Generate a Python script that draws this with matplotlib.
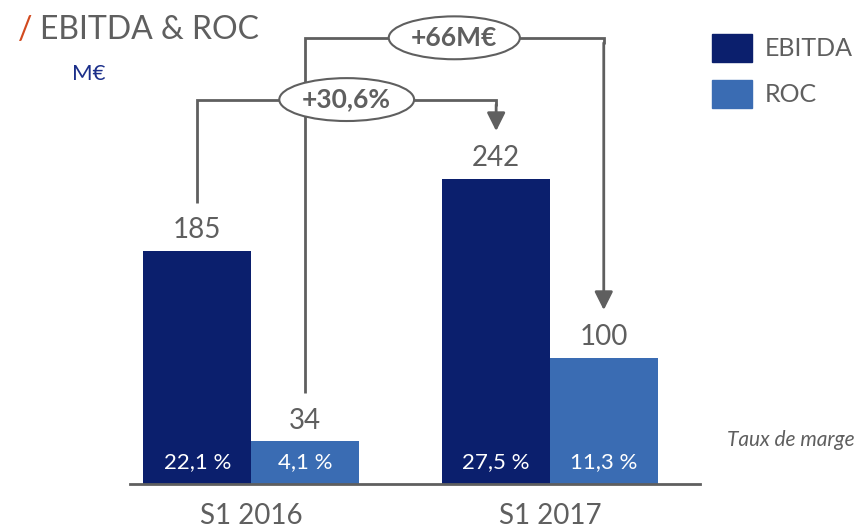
import matplotlib.pyplot as plt
from matplotlib.patches import Patch

periods = ["S1 2016", "S1 2017"]
ebitda = [185, 242]
roc = [34, 100]
ebitda_margin = ["22,1 %", "27,5 %"]
roc_margin = ["4,1 %", "11,3 %"]
growth_ebitda = "+30,6%"
growth_roc = "+66M€"

navy = "#0b1f6d"
blue = "#3a6cb3"
grey = "#5f5f5f"

plt.rcParams["font.family"] = ["Lato", "DejaVu Sans"]

fig = plt.figure(figsize=(8.6, 5.31), dpi=100)
ax = fig.add_axes([130 / 860, 47 / 531, 570 / 860, 484 / 531])

w = 0.36
x = [0, 1]
xe = [i - w / 2 for i in x]
xr = [i + w / 2 for i in x]
ax.bar(xe, ebitda, w, color=navy, label="EBITDA")
ax.bar(xr, roc, w, color=blue, label="ROC")

for xi, v in zip(xe + xr, ebitda + roc):
    ax.text(xi, v + 6, str(v), ha="center", va="bottom", fontsize=20, color=grey)
for xi, t in zip(xe + xr, ebitda_margin + roc_margin):
    ax.text(xi, 17, t, ha="center", va="center", fontsize=16, color="white")

# connectors with growth bubbles
off = 38
lw = 2
for (x0, x1, v0, v1, ytop, label) in [
    (xe[0], xe[1], ebitda[0], ebitda[1], 305, growth_ebitda),
    (xr[0], xr[1], roc[0], roc[1], 354, growth_roc),
]:
    ax.plot([x0, x0, x1, x1], [v0 + off, ytop, ytop, ytop - 5], color=grey, lw=lw,
            zorder=3, solid_joinstyle="miter", solid_capstyle="butt")
    ax.annotate("", xy=(x1, v1 + off), xytext=(x1, ytop - 4),
                arrowprops=dict(arrowstyle="-|>,head_length=1.1,head_width=0.55",
                                color=grey, lw=lw, shrinkA=0, shrinkB=0), zorder=3)
    ax.text((x0 + x1) / 2, ytop, label, ha="center", va="center", fontsize=19,
            fontweight="bold", color=grey, zorder=5,
            bbox=dict(boxstyle="ellipse,pad=0.12", fc="white", ec=grey, lw=1.5))

ax.set_xlim(-0.405, 1.502)
ax.set_ylim(0, 384)
ax.set_xticks(x)
ax.set_xticklabels(periods, fontsize=20, color=grey)
ax.tick_params(axis="x", length=0, pad=14)
ax.set_yticks([])
for s in ["top", "left", "right"]:
    ax.spines[s].set_visible(False)
ax.spines["bottom"].set_color(grey)
ax.spines["bottom"].set_linewidth(2)

fig.text(855 / 860, 1 - 440 / 531, "Taux de marge", ha="right", va="center",
         fontsize=15, style="italic", color=grey)

fig.text(18 / 860, 1 - 39 / 531, "/", fontsize=23, color="#d24a1f", va="baseline")
fig.text(40 / 860, 1 - 39 / 531, "EBITDA & ROC", fontsize=23, color=grey, va="baseline")
fig.text(72 / 860, 1 - 80 / 531, "M€", fontsize=16, color="#1b2f8a", va="baseline")

handles = [Patch(color=navy), Patch(color=blue)]
fig.legend(handles, ["EBITDA", "ROC"], loc="upper left",
           bbox_to_anchor=(712 / 860, 1 - 34 / 531), frameon=False, fontsize=18,
           handlelength=1.6, handleheight=1.35, handletextpad=0.5,
           labelspacing=0.7, borderpad=0, borderaxespad=0, labelcolor=grey)

fig.savefig("out.png", dpi=100)
